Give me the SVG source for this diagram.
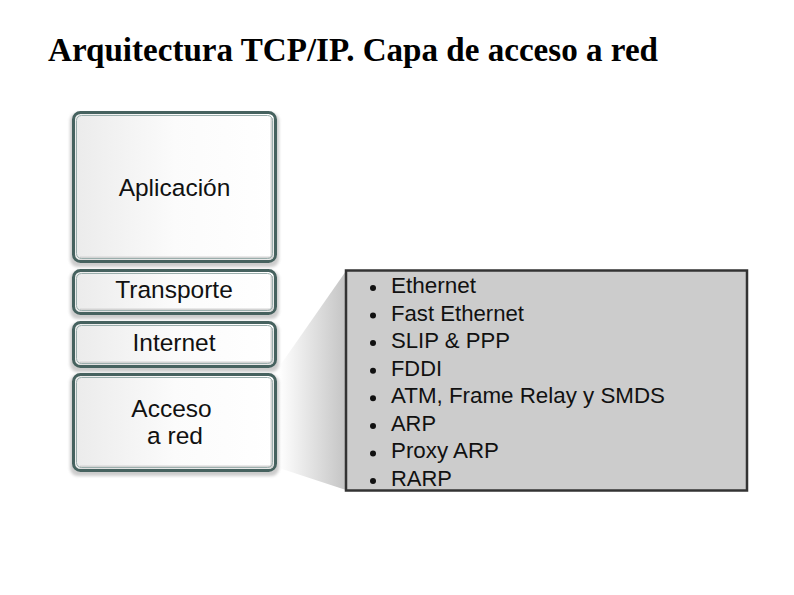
<svg xmlns="http://www.w3.org/2000/svg" width="794" height="595" viewBox="0 0 794 595">
  <defs>
    <linearGradient id="boxFill" x1="0" y1="0" x2="1" y2="0">
      <stop offset="0" stop-color="#ebebeb"/>
      <stop offset="0.5" stop-color="#fbfbfb"/>
      <stop offset="1" stop-color="#ffffff"/>
    </linearGradient>
    <linearGradient id="zoomFill" x1="0" y1="0" x2="1" y2="0">
      <stop offset="0" stop-color="#ffffff"/>
      <stop offset="1" stop-color="#c4c4c4"/>
    </linearGradient>
    <filter id="soft" x="-5%" y="-5%" width="115%" height="115%">
      <feGaussianBlur stdDeviation="1.5"/>
    </filter>
  </defs>
  <style>
    .title { font-family: "Liberation Serif", "Times New Roman", serif; font-size: 33px; font-weight: bold; fill: #000; }
    .shadow { fill: #cccccc; }
    .box { fill: url(#boxFill); stroke: #46625f; stroke-width: 3; }
    .inner { fill: none; stroke: #9aaeac; stroke-width: 1; }
    .bevel { fill: none; stroke: #d4d4d4; stroke-width: 3; }
    .lbl { font-family: "Liberation Sans", Arial, sans-serif; font-size: 24.5px; fill: #111; text-anchor: middle; }
    .panel { fill: #cccccc; stroke: #333333; stroke-width: 2.5; }
    .item { font-family: "Liberation Sans", Arial, sans-serif; font-size: 22px; fill: #111; }
    .bullet { fill: #111; }
  </style>

  <text class="title" x="48" y="61" textLength="610" lengthAdjust="spacingAndGlyphs">Arquitectura TCP/IP. Capa de acceso a red</text>

  <g id="connectors">
    <polygon points="279,367 346,271 346,490 279,468" fill="url(#zoomFill)"/>
  </g>

  <g id="aplicacion">
    <rect class="shadow" x="70" y="113" width="209" height="154" rx="8" filter="url(#soft)"/>
    <rect class="box" x="73.5" y="112.5" width="202" height="149" rx="7"/>
    <path class="bevel" d="M272,118 V256 Q272,258 270,258 H80"/>
    <rect class="inner" x="76.5" y="115.5" width="196" height="143" rx="5"/>
    <text class="lbl" x="174.5" y="196">Aplicación</text>
  </g>

  <g id="transporte">
    <rect class="shadow" x="70" y="271" width="209" height="48" rx="8" filter="url(#soft)"/>
    <rect class="box" x="73.5" y="270.5" width="202" height="43" rx="7"/>
    <path class="bevel" d="M272,276 V308 Q272,310 270,310 H80"/>
    <rect class="inner" x="76.5" y="273.5" width="196" height="37" rx="5"/>
    <text class="lbl" x="174" y="298">Transporte</text>
  </g>

  <g id="internet">
    <rect class="shadow" x="70" y="323" width="209" height="49" rx="8" filter="url(#soft)"/>
    <rect class="box" x="73.5" y="322.5" width="202" height="44" rx="7"/>
    <path class="bevel" d="M272,328 V361 Q272,363 270,363 H80"/>
    <rect class="inner" x="76.5" y="325.5" width="196" height="38" rx="5"/>
    <text class="lbl" x="174" y="351">Internet</text>
  </g>

  <g id="acceso">
    <rect class="shadow" x="70" y="375" width="209" height="101" rx="8" filter="url(#soft)"/>
    <rect class="box" x="73.5" y="374.5" width="202" height="96" rx="7"/>
    <path class="bevel" d="M272,380 V465 Q272,467 270,467 H80"/>
    <rect class="inner" x="76.5" y="377.5" width="196" height="90" rx="5"/>
    <text class="lbl" x="171.5" y="417">Acceso</text>
    <text class="lbl" x="175" y="444">a red</text>
  </g>

  <g id="panel">
    <rect class="panel" x="346" y="270.5" width="401" height="220"/>
    <circle class="bullet" cx="373" cy="288" r="3"/>
    <text class="item" x="391" y="293" textLength="85" lengthAdjust="spacingAndGlyphs">Ethernet</text>
    <circle class="bullet" cx="373" cy="315.6" r="3"/>
    <text class="item" x="391" y="320.6" textLength="133" lengthAdjust="spacingAndGlyphs">Fast Ethernet</text>
    <circle class="bullet" cx="373" cy="343.1" r="3"/>
    <text class="item" x="391" y="348.1" textLength="119" lengthAdjust="spacingAndGlyphs">SLIP &amp; PPP</text>
    <circle class="bullet" cx="373" cy="370.7" r="3"/>
    <text class="item" x="391" y="375.7" textLength="51" lengthAdjust="spacingAndGlyphs">FDDI</text>
    <circle class="bullet" cx="373" cy="398.3" r="3"/>
    <text class="item" x="391" y="403.3" textLength="274" lengthAdjust="spacingAndGlyphs">ATM, Frame Relay y SMDS</text>
    <circle class="bullet" cx="373" cy="425.9" r="3"/>
    <text class="item" x="391" y="430.9" textLength="45" lengthAdjust="spacingAndGlyphs">ARP</text>
    <circle class="bullet" cx="373" cy="453.4" r="3"/>
    <text class="item" x="391" y="458.4" textLength="108" lengthAdjust="spacingAndGlyphs">Proxy ARP</text>
    <circle class="bullet" cx="373" cy="481" r="3"/>
    <text class="item" x="391" y="486" textLength="61" lengthAdjust="spacingAndGlyphs">RARP</text>
  </g>
</svg>
